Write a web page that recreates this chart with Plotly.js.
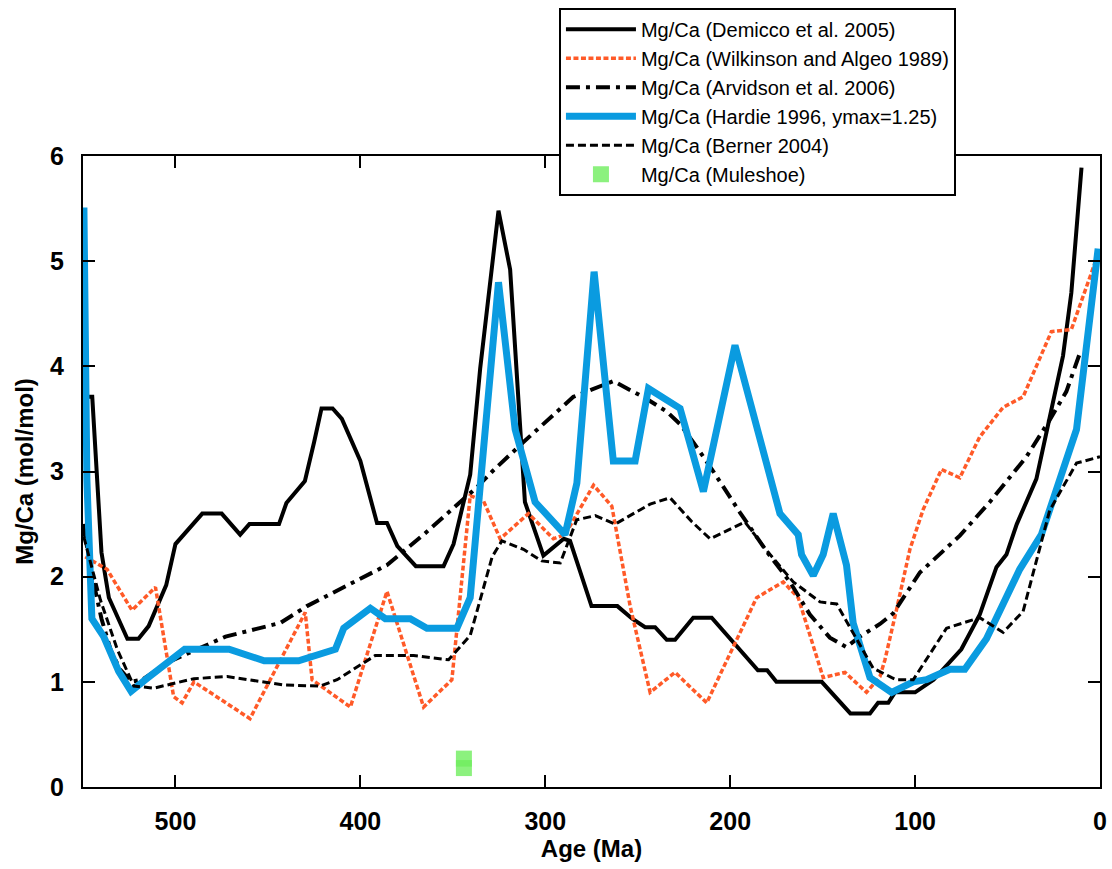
<!DOCTYPE html>
<html><head><meta charset="utf-8">
<script src="https://cdn.plot.ly/plotly-3.0.1.min.js"></script>
<style>body{margin:0;background:#fff}#chart{width:1112px;height:869px}</style>
</head><body><div id="chart"></div>
<script>
// Age (Ma) and Mg/Ca (mol/mol) values
const demiccoAge = [547, 545, 540, 536, 526, 520, 514.5, 505, 500, 485.5, 475, 465, 460, 444, 440, 430, 425, 421, 415, 410, 400, 391, 385.6, 380, 370, 355, 349.6, 340.6, 335.2, 325.3, 319, 311, 301, 290, 286.6, 275, 261, 253, 246, 240.6, 234.3, 229.8, 220, 210, 185, 180, 175, 150.5, 135, 124.4, 120, 114.5, 110.9, 100, 90, 75, 65, 56, 50.6, 45, 34.4, 27, 20, 15.5, 10];
const demiccoMgCa = [3.71, 3.71, 2.23, 1.8, 1.41, 1.41, 1.53, 1.92, 2.31, 2.6, 2.6, 2.4, 2.5, 2.5, 2.7, 2.91, 3.28, 3.6, 3.6, 3.5, 3.1, 2.51, 2.51, 2.29, 2.1, 2.1, 2.31, 2.97, 3.98, 5.48, 4.92, 2.71, 2.2, 2.36, 2.34, 1.72, 1.72, 1.6, 1.52, 1.52, 1.4, 1.4, 1.61, 1.61, 1.11, 1.11, 1.0, 1.0, 0.7, 0.7, 0.8, 0.8, 0.9, 0.9, 1.02, 1.31, 1.64, 2.09, 2.21, 2.5, 2.93, 3.51, 4.1, 4.7, 5.89];

const wilkinsonAge = [548.8, 537, 523.5, 510.8, 501, 496.4, 490, 459.7, 429.8, 426.1, 405.4, 385.6, 365.8, 350.5, 340.6, 333.4, 324.4, 309.1, 295.6, 289.3, 273.9, 264, 254.1, 243.3, 229.8, 212.7, 185.7, 171.3, 163.2, 149.7, 137.9, 126.3, 119, 116.3, 110, 102.8, 95.6, 85.7, 75.8, 65, 52.4, 41.6, 26.3, 15.5, 2];
const wilkinsonMgCa = [2.19, 2.07, 1.68, 1.9, 0.86, 0.8, 1.0, 0.65, 1.66, 1.02, 0.76, 1.86, 0.76, 1.02, 2.77, 2.72, 2.36, 2.6, 2.36, 2.4, 2.87, 2.67, 1.72, 0.9, 1.09, 0.8, 1.8, 1.95, 1.8, 1.04, 1.09, 0.9, 1.05, 1.21, 1.69, 2.26, 2.64, 3.02, 2.94, 3.33, 3.61, 3.71, 4.33, 4.35, 5.02];

const arvidsonAge = [550, 545, 540, 535, 530, 524, 518, 503.6, 472.9, 443.3, 428.9, 409, 385.6, 365.8, 351.4, 337, 328.7, 311.8, 284.8, 272.1, 263.2, 245.1, 234.3, 227.1, 220, 209.1, 194.7, 180.3, 167.7, 156.9, 146.1, 137.1, 129.9, 119, 111.9, 97.4, 75.8, 59.6, 39.8, 27.2, 18.2, 11];
const arvidsonMgCa = [2.5, 2.0, 1.6, 1.3, 1.12, 1.0, 1.02, 1.19, 1.43, 1.56, 1.72, 1.9, 2.11, 2.4, 2.62, 2.85, 3.0, 3.28, 3.71, 3.8, 3.86, 3.69, 3.57, 3.45, 3.28, 3.0, 2.61, 2.24, 1.95, 1.64, 1.42, 1.33, 1.43, 1.55, 1.65, 2.04, 2.39, 2.71, 3.14, 3.49, 3.76, 4.12];

const hardieAge = [549.5, 547.9, 545.2, 538.8, 530.7, 524, 516.3, 495, 471, 452, 433.4, 413.5, 409, 394.6, 386.5, 373, 364, 347.8, 340.6, 325.3, 316.3, 305.5, 289.3, 282.9, 273.6, 263.2, 251.4, 244.2, 227.1, 214.5, 197.4, 173.1, 163.2, 161.4, 155.1, 149.7, 144.3, 137.1, 133.5, 124.4, 112.7, 101, 93.8, 81.2, 73.1, 61.4, 43.4, 31.7, 12.7, 1];
const hardieMgCa = [5.51, 2.93, 1.6, 1.43, 1.1, 0.91, 1.02, 1.31, 1.31, 1.2, 1.2, 1.31, 1.51, 1.7, 1.6, 1.6, 1.51, 1.51, 1.8, 4.8, 3.4, 2.71, 2.4, 2.89, 4.9, 3.1, 3.1, 3.79, 3.6, 2.81, 4.2, 2.6, 2.4, 2.21, 2.01, 2.21, 2.6, 2.11, 1.56, 1.04, 0.9, 1.0, 1.02, 1.12, 1.12, 1.41, 2.07, 2.4, 3.4, 5.12];

const bernerAge = [549.6, 540.6, 531.5, 522.5, 511.7, 490, 472, 441.5, 421.7, 412.6, 392, 371.2, 352.3, 340.6, 328.7, 323.5, 311.8, 301.9, 291.9, 283, 273, 262.2, 243.3, 232.5, 220.6, 210.9, 192, 180.3, 165.9, 151.4, 142.4, 122.7, 112.6, 110, 101, 83, 65, 52.4, 41.6, 27.2, 12.7, 0];
const bernerMgCa = [2.38, 1.78, 1.31, 0.96, 0.94, 1.03, 1.05, 0.97, 0.96, 1.02, 1.25, 1.25, 1.21, 1.44, 2.19, 2.34, 2.26, 2.15, 2.13, 2.54, 2.58, 2.5, 2.69, 2.75, 2.52, 2.36, 2.52, 2.25, 1.95, 1.76, 1.74, 1.13, 1.04, 1.02, 1.02, 1.51, 1.61, 1.47, 1.67, 2.63, 3.08, 3.14];

const muleshoeAge = [344, 344];
const muleshoeMgCa = [0.27, 0.18];

const seriesNames = [
  'Mg/Ca (Demicco et al. 2005)',
  'Mg/Ca (Wilkinson and Algeo 1989)',
  'Mg/Ca (Arvidson et al. 2006)',
  'Mg/Ca (Hardie 1996, ymax=1.25)',
  'Mg/Ca (Berner 2004)',
  'Mg/Ca (Muleshoe)'
];
const xTitle = 'Age (Ma)';
const yTitle = 'Mg/Ca (mol/mol)';

const FONT = 'Liberation Sans, Arial, Helvetica, sans-serif';

const traces = [
  {x: demiccoAge, y: demiccoMgCa, name: seriesNames[0], mode: 'lines',
   line: {color: '#000000', width: 4}},
  {x: wilkinsonAge, y: wilkinsonMgCa, name: seriesNames[1], mode: 'lines',
   line: {color: '#ff5a28', width: 3.5, dash: '5px,2.5px'}},
  {x: arvidsonAge, y: arvidsonMgCa, name: seriesNames[2], mode: 'lines',
   line: {color: '#000000', width: 4, dash: '14px,6px,4px,6px'}},
  {x: hardieAge, y: hardieMgCa, name: seriesNames[3], mode: 'lines',
   line: {color: '#0a9be0', width: 7}},
  {x: bernerAge, y: bernerMgCa, name: seriesNames[4], mode: 'lines',
   line: {color: '#000000', width: 3, dash: '8px,4px'}},
  {x: muleshoeAge, y: muleshoeMgCa, name: seriesNames[5], mode: 'markers',
   marker: {symbol: 'square', size: 16, color: '#6fee5e', opacity: 0.8, line: {width: 0}}}
];

const axisCommon = {
  showline: true, linewidth: 2, linecolor: '#000', mirror: 'ticks',
  ticks: 'inside', ticklen: 12, tickwidth: 2, tickcolor: '#000',
  showgrid: false, zeroline: false,
  tickfont: {family: FONT, size: 25, color: '#000', weight: 'bold'}
};

const layout = {
  width: 1112, height: 869,
  paper_bgcolor: '#fff', plot_bgcolor: '#fff',
  margin: {l: 83, r: 12, t: 156, b: 82, autoexpand: false},
  showlegend: true,
  xaxis: Object.assign({}, axisCommon, {
    range: [550, 0], tick0: 0, dtick: 100, ticklabelstandoff: 11,
    title: {text: xTitle, font: {family: FONT, size: 24, color: '#000', weight: 'bold'}, standoff: 6}
  }),
  yaxis: Object.assign({}, axisCommon, {
    range: [0, 6], tick0: 0, dtick: 1, ticklabelstandoff: 12,
    title: {text: yTitle, font: {family: FONT, size: 24, color: '#000', weight: 'bold'}, standoff: 10}
  }),
  legend: {
    x: 0.468, y: 1.235, xanchor: 'left', yanchor: 'top',
    bgcolor: '#fff', bordercolor: '#000', borderwidth: 2,
    font: {family: FONT, size: 20, color: '#000'},
    itemwidth: 70, tracegroupgap: 0
  }
};

Plotly.newPlot('chart', traces, layout, {displayModeBar: false, staticPlot: true});
</script></body></html>
